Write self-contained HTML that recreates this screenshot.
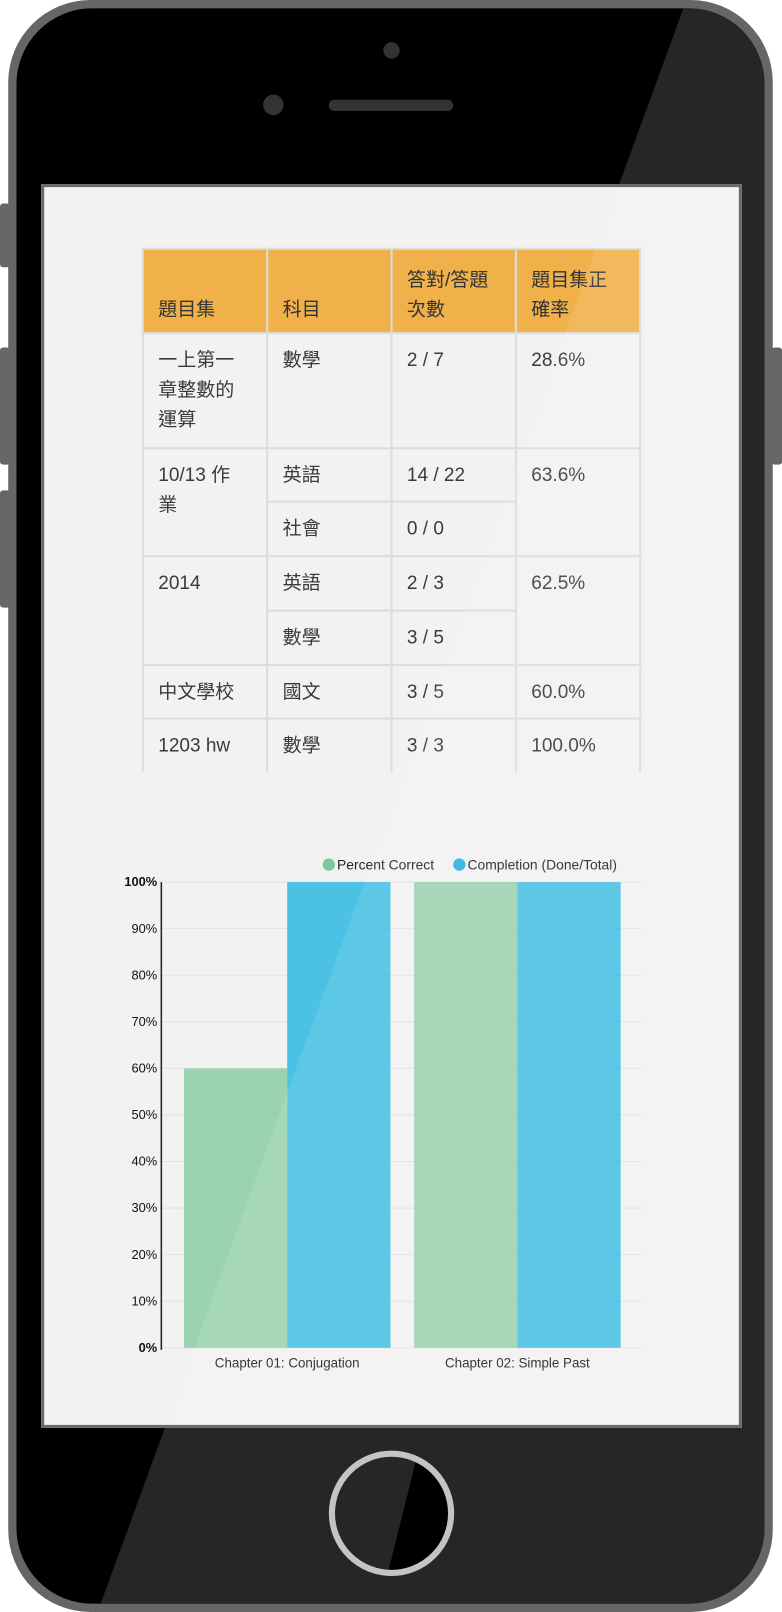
<!DOCTYPE html>
<html><head><meta charset="utf-8">
<style>
html,body{margin:0;padding:0;width:782px;height:1612px;overflow:hidden;background:#fff}
#wrap{position:absolute;left:0;top:0;width:761px;height:1568px;transform-origin:0 0;transform:scale(1.02760,1.02806)}
.abs{position:absolute}
#screen{position:absolute;left:40px;top:179px;width:676px;height:1204px;border:3px solid #6a6a6a;background:#f2f2f2;overflow:hidden}
table{position:absolute;left:95px;top:59px;width:486px;table-layout:fixed;border-collapse:collapse;font-family:"Liberation Sans","Noto Sans CJK TC",sans-serif;font-size:18.5px;color:#333;line-height:29px}
td,th{border:2px solid #dcdcdc;padding:10px 14px 0 14px;vertical-align:top;text-align:left;font-weight:normal;box-sizing:border-box}
th{background:#f0b04a;vertical-align:bottom;padding-bottom:8px;height:82px}
td{color:#3a3a3a}
</style></head><body>
<div id="wrap">
<svg class="abs" style="left:0;top:0" width="761" height="1568">
 <rect x="0" y="198" width="10" height="62" rx="3" fill="#666"/>
 <rect x="0" y="338" width="10" height="114" rx="3" fill="#666"/>
 <rect x="0" y="477" width="10" height="114" rx="3" fill="#666"/>
 <rect x="751" y="338" width="10" height="114" rx="3" fill="#666"/>
 <clipPath id="pc"><rect x="16" y="8" width="728" height="1552" rx="74"/></clipPath>
 <rect x="8" y="0" width="744" height="1568" rx="80" fill="#666"/>
 <g clip-path="url(#pc)">
  <rect x="16" y="8" width="728" height="1552" fill="#000"/>
  <polygon points="668,0 761,0 761,1568 95,1568" fill="#262626"/>
 </g>
 <circle cx="381" cy="49" r="8" fill="#333"/>
 <circle cx="266" cy="102" r="10" fill="#333"/>
 <rect x="320" y="97" width="121" height="11" rx="5.5" fill="#333"/>
 <clipPath id="hb"><circle cx="381" cy="1472" r="57"/></clipPath>
 <polygon clip-path="url(#hb)" points="410,1400 500,1400 500,1560 370,1560" fill="#000"/>
 <circle cx="381" cy="1472" r="58" fill="none" stroke="#c4c4c4" stroke-width="6"/>
</svg>
<div id="screen">
<table>
<tr><th>題目集</th><th>科目</th><th>答對/答題<br>次數</th><th>題目集正<br>確率</th></tr>
<tr style="height:112px"><td>一上第一<br>章整數的<br>運算</td><td>數學</td><td>2 / 7</td><td>28.6%</td></tr>
<tr style="height:52px"><td rowspan="2">10/13 作<br>業</td><td>英語</td><td>14 / 22</td><td rowspan="2">63.6%</td></tr>
<tr style="height:53px"><td>社會</td><td>0 / 0</td></tr>
<tr style="height:53px"><td rowspan="2">2014</td><td>英語</td><td>2 / 3</td><td rowspan="2">62.5%</td></tr>
<tr style="height:53px"><td>數學</td><td>3 / 5</td></tr>
<tr style="height:52px"><td>中文學校</td><td>國文</td><td>3 / 5</td><td>60.0%</td></tr>
<tr style="height:52px"><td style="border-bottom:none">1203 hw</td><td style="border-bottom:none">數學</td><td style="border-bottom:none">3 / 3</td><td style="border-bottom:none">100.0%</td></tr>
</table>
</div>
<svg id="chart" class="abs" style="left:0;top:0" width="761" height="1568" font-family="Liberation Sans, sans-serif"></svg>
<svg class="abs" style="left:0;top:0;pointer-events:none" width="761" height="1568">
 <clipPath id="sc"><rect x="43" y="182" width="676" height="1204"/></clipPath>
 <polygon clip-path="url(#sc)" points="668,0 761,0 761,1568 95,1568" fill="#fff" opacity="0.1"/>
</svg>
</div>
<script>
const categories=["Chapter 01: Conjugation","Chapter 02: Simple Past"];
const percentCorrect=[60,100];
const completion=[100,100];
const yTicks=[0,10,20,30,40,50,60,70,80,90,100];
const seriesNames=["Percent Correct","Completion (Done/Total)"];
const seriesColors=["rgba(126,200,154,0.75)","rgba(38,182,224,0.82)"];
const legendColors=["#7ec89a","#26b4e0"];
const NS="http://www.w3.org/2000/svg";
const svg=document.getElementById('chart');
const X0=157,X1=624,Y0=1311,Y1=858;
function y(v){return Y0-(v/100)*(Y0-Y1);}
function groupX(i){return 179+i*224;}
function mk(t,a,txt){const e=document.createElementNS(NS,t);for(const k in a)e.setAttribute(k,a[k]);if(txt!=null)e.textContent=txt;svg.appendChild(e);return e;}
yTicks.forEach(t=>{
 const g=mk('line',{x1:X0,x2:X1,y1:y(t),y2:y(t),stroke:'#e2e2e2','stroke-width':1});
 
 
 const l=mk('text',{x:X0-4,y:y(t)+4,'text-anchor':'end','font-size':12.5,fill:'#111','font-weight':(t===0||t===100)?'bold':'normal'},t+'%');
 
 
});
const series=[percentCorrect,completion];
categories.forEach((c,i)=>{
 series.forEach((s,j)=>{
  const bx=groupX(i)+j*100.5;
  const r=mk('rect',{x:bx,y:y(s[i]),width:100.5,height:y(0)-y(s[i]),fill:seriesColors[j]});
  
  
 });
 const t=mk('text',{x:groupX(i)+100.5,y:1330,'text-anchor':'middle','font-size':13,fill:'#222'},c);
 
 
});
const ax=mk('line',{x1:X0,x2:X0,y1:Y1,y2:Y0+2,stroke:'#222','stroke-width':1.5});


const lx=[320,447];
seriesNames.forEach((n,j)=>{
 const c=mk('circle',{cx:lx[j],cy:841,r:6,fill:legendColors[j]});
 
 
 const t=mk('text',{x:lx[j]+8,y:846,'font-size':13.5,fill:'#222'},n);
 
 
});
</script>
</body></html>
